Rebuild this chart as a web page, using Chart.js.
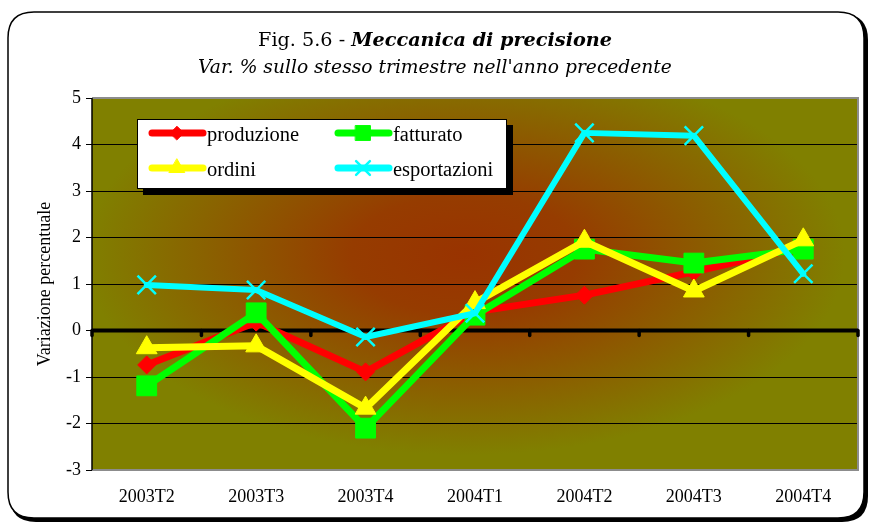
<!DOCTYPE html>
<html><head><meta charset="utf-8">
<script src="https://cdn.jsdelivr.net/npm/chart.js@4"></script>
<style>html,body{margin:0;padding:0;background:#fff}#wrap{width:869px;height:523px;position:relative}</style>
</head><body><div id="wrap"><canvas id="c" width="869" height="523"></canvas></div>
<script>
const categories = ['2003T2','2003T3','2003T4','2004T1','2004T2','2004T3','2004T4'];
const produzione = [-0.74, 0.18, -0.89, 0.40, 0.76, 1.26, 1.80];
const fatturato = [-1.19, 0.38, -2.10, 0.33, 1.75, 1.45, 1.75];
const ordini = [-0.37, -0.33, -1.67, 0.60, 1.92, 0.85, 1.95];
const esportazioni = [0.98, 0.87, -0.14, 0.37, 4.25, 4.19, 1.22];
const seriesNames = ['produzione','fatturato','ordini','esportazioni'];
const titleMain = 'Fig. 5.6 - ';
const titleBold = 'Meccanica di precisione';
const subtitleText = "Var. % sullo stesso trimestre nell'anno precedente";
const yAxisTitle = 'Variazione percentuale';
const yMin = -3, yMax = 5;

const SERIF = '"Liberation Serif", "DejaVu Serif", serif';
const TSERIF = '"DejaVu Serif", "Liberation Serif", serif';

function roundRect(ctx, x, y, w, h, r) {
  ctx.beginPath();
  ctx.moveTo(x + r, y);
  ctx.lineTo(x + w - r, y);
  ctx.quadraticCurveTo(x + w, y, x + w, y + r);
  ctx.lineTo(x + w, y + h - r);
  ctx.quadraticCurveTo(x + w, y + h, x + w - r, y + h);
  ctx.lineTo(x + r, y + h);
  ctx.quadraticCurveTo(x, y + h, x, y + h - r);
  ctx.lineTo(x, y + r);
  ctx.quadraticCurveTo(x, y, x + r, y);
  ctx.closePath();
}

const decor = {
  id: 'decor',
  beforeDraw(chart) {
    const ctx = chart.ctx;
    const a = chart.chartArea;
    ctx.save();
    ctx.fillStyle = '#fff';
    ctx.fillRect(0, 0, chart.width, chart.height);
    ctx.fillStyle = '#000';
    roundRect(ctx, 10, 14, 858, 508, 26); ctx.fill();
    ctx.fillStyle = '#fff';
    roundRect(ctx, 8, 12, 856, 506, 26); ctx.fill();
    ctx.strokeStyle = '#000'; ctx.lineWidth = 1.5;
    roundRect(ctx, 8, 12, 856, 506, 26); ctx.stroke();
    ctx.fillStyle = '#000';
    ctx.textBaseline = 'alphabetic';
    let s = 20;
    ctx.font = s + 'px ' + TSERIF; let w1 = ctx.measureText(titleMain).width;
    ctx.font = 'italic bold ' + s + 'px ' + TSERIF; let w2 = ctx.measureText(titleBold).width;
    s = s * 354 / (w1 + w2);
    ctx.font = s + 'px ' + TSERIF; w1 = ctx.measureText(titleMain).width;
    ctx.font = 'italic bold ' + s + 'px ' + TSERIF; w2 = ctx.measureText(titleBold).width;
    const x0 = 435 - (w1 + w2) / 2;
    ctx.textAlign = 'left';
    ctx.font = s + 'px ' + TSERIF; ctx.fillText(titleMain, x0, 46);
    ctx.font = 'italic bold ' + s + 'px ' + TSERIF; ctx.fillText(titleBold, x0 + w1, 46);
    let s2 = 19;
    ctx.font = 'italic ' + s2 + 'px ' + TSERIF;
    s2 = s2 * 474 / ctx.measureText(subtitleText).width;
    ctx.font = 'italic ' + s2 + 'px ' + TSERIF; ctx.textAlign = 'center';
    ctx.fillText(subtitleText, 435, 73);
    const cx = (a.left + a.right) / 2 - 10, cy = 255;
    ctx.save();
    ctx.beginPath(); ctx.rect(a.left, a.top, a.right - a.left, a.bottom - a.top); ctx.clip();
    ctx.translate(cx, cy); ctx.scale(1.9, 1);
    const g = ctx.createRadialGradient(0, 0, 0, 0, 0, 200);
    g.addColorStop(0, '#993300');
    g.addColorStop(0.3, '#963c00');
    g.addColorStop(1, '#808000');
    ctx.fillStyle = g;
    ctx.fillRect(-400, -400, 800, 800);
    ctx.restore();
    ctx.restore();
  },
  beforeDatasetsDraw(chart) {
    const ctx = chart.ctx;
    const a = chart.chartArea;
    const ys = chart.scales.y;
    ctx.save();
    ctx.strokeStyle = '#8c8c8c'; ctx.lineWidth = 2;
    ctx.beginPath();
    ctx.moveTo(a.left, a.top); ctx.lineTo(a.right, a.top); ctx.lineTo(a.right, a.bottom); ctx.lineTo(a.left, a.bottom);
    ctx.stroke();
    ctx.strokeStyle = '#000'; ctx.lineWidth = 1.5;
    ctx.beginPath(); ctx.moveTo(a.left, a.top); ctx.lineTo(a.left, a.bottom); ctx.stroke();
    const y0 = ys.getPixelForValue(0);
    ctx.lineWidth = 4; ctx.lineCap = 'butt';
    ctx.beginPath(); ctx.moveTo(a.left, y0); ctx.lineTo(a.right, y0); ctx.stroke();
    const n = categories.length;
    const step = (a.right - a.left) / n;
    ctx.lineWidth = 3.5; ctx.lineCap = 'round';
    for (let i = 0; i <= n; i++) {
      const x = a.left + i * step;
      ctx.beginPath(); ctx.moveTo(x, y0); ctx.lineTo(x, y0 + 5); ctx.stroke();
    }
    ctx.restore();
  },
  afterDraw(chart) {
    const ctx = chart.ctx;
    ctx.save();
    const bx = 137, by = 119, bw = 370, bh = 70;
    ctx.fillStyle = '#000'; ctx.fillRect(bx + 6, by + 6, bw, bh);
    ctx.fillStyle = '#fff'; ctx.fillRect(bx, by, bw, bh);
    ctx.strokeStyle = '#000'; ctx.lineWidth = 1; ctx.strokeRect(bx + 0.5, by + 0.5, bw - 1, bh - 1);
    const cols = [149, 335], rows = [133, 168];
    chart.data.datasets.forEach((ds, i) => {
      const col = cols[i % 2], row = rows[Math.floor(i / 2)];
      ctx.strokeStyle = ds.borderColor; ctx.lineWidth = 7; ctx.lineCap = 'round';
      ctx.beginPath(); ctx.moveTo(col + 3, row); ctx.lineTo(col + 54, row); ctx.stroke();
      ctx.fillStyle = ds.pointBackgroundColor; ctx.strokeStyle = ds.pointBorderColor;
      ctx.lineWidth = ds.pointBorderWidth;
      Chart.helpers.drawPoint(ctx, { pointStyle: ds.pointStyle, radius: ds.pointRadius * 0.75, rotation: 0, borderWidth: ds.pointBorderWidth }, col + 28, row);
      ctx.fillStyle = '#000'; ctx.font = '20.5px ' + SERIF; ctx.textAlign = 'left'; ctx.textBaseline = 'alphabetic';
      ctx.fillText(ds.label, col + 58, row + 8);
    });
    ctx.restore();
  }
};

function mk(label, data, color, style, radius, order, pbw) {
  return {
    label, data, borderColor: color, backgroundColor: color,
    pointBackgroundColor: color, pointBorderColor: color, pointBorderWidth: pbw,
    pointStyle: style, pointRadius: radius, pointHoverRadius: radius,
    borderWidth: 7, tension: 0, fill: false, order, borderJoinStyle: 'round', borderCapStyle: 'round'
  };
}

new Chart(document.getElementById('c'), {
  type: 'line',
  data: {
    labels: categories,
    datasets: [
      mk(seriesNames[0], produzione, '#ff0000', 'rectRot', 9, 3, 1),
      mk(seriesNames[1], fatturato, '#00ff00', 'rect', 14, 2, 1),
      mk(seriesNames[2], ordini, '#ffff00', 'triangle', 12, 1, 1),
      Object.assign(mk(seriesNames[3], esportazioni, '#00ffff', 'crossRot', 13, 0, 2.5), { borderWidth: 6 })
    ]
  },
  plugins: [decor],
  options: {
    responsive: false, animation: false, devicePixelRatio: 1,
    layout: { autoPadding: false, padding: { top: 98, left: 32, right: 11, bottom: 13 } },
    plugins: { legend: { display: false }, tooltip: { enabled: false }, title: { display: false } },
    scales: {
      x: {
        offset: true,
        grid: { display: false, drawTicks: false },
        border: { display: false },
        ticks: { color: '#000', font: { family: SERIF, size: 18 }, padding: 16, maxRotation: 0 },
        afterFit(s) { s.height = 40; s.paddingLeft = 0; s.paddingRight = 0; }
      },
      y: {
        min: yMin, max: yMax,
        ticks: { stepSize: 1, color: '#000', font: { family: SERIF, size: 18 }, padding: 5 },
        grid: { color: '#000', lineWidth: 1, tickLength: 6, tickWidth: 1, tickColor: '#000' },
        border: { display: false },
        title: { display: true, text: yAxisTitle, color: '#000', font: { family: SERIF, size: 18 }, padding: { top: 2, bottom: 2 } },
        afterFit(s) { s.width = 60; s.paddingTop = 0; s.paddingBottom = 0; }
      }
    }
  }
});
</script>
</body></html>
